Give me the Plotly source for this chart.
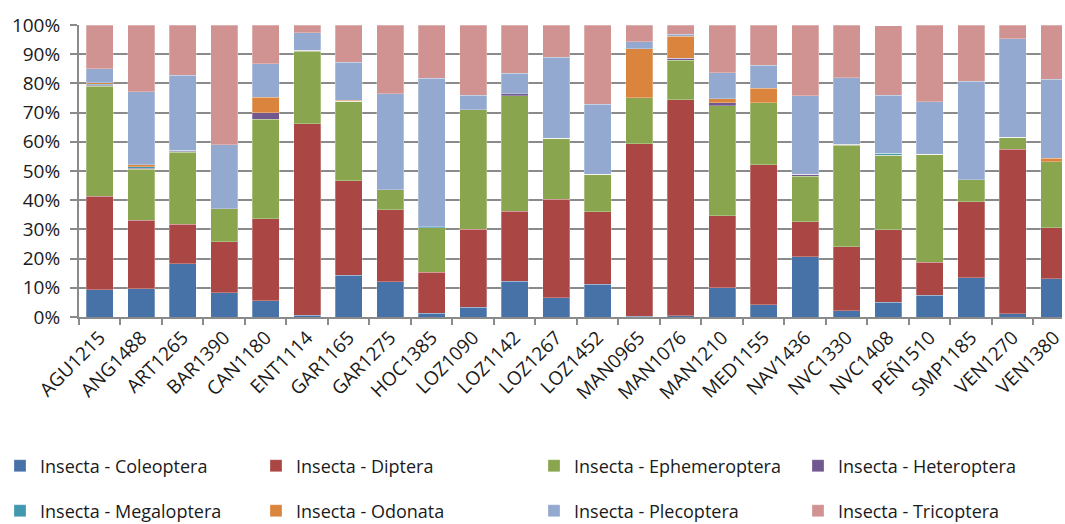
import plotly.graph_objects as go

# Sampling sites (x categories)
sites = ["AGU1215", "ANG1488", "ART1265", "BAR1390", "CAN1180", "ENT1114",
         "GAR1165", "GAR1275", "HOC1385", "LOZ1090", "LOZ1142", "LOZ1267",
         "LOZ1452", "MAN0965", "MAN1076", "MAN1210", "MED1155", "NAV1436",
         "NVC1330", "NVC1408", "PEÑ1510", "SMP1185", "VEN1270", "VEN1380"]

# Relative abundance (%) of each insect order per site
coleoptera = [9.4, 9.6, 18.3, 8.3, 5.6, 0.6, 14.3, 12.0, 1.3, 3.3, 12.3, 6.6,
              11.3, 0.2, 0.5, 10.0, 4.2, 20.7, 2.1, 5.0, 7.5, 13.5, 1.1, 13.1]
diptera = [32.0, 23.6, 13.5, 17.4, 28.1, 65.5, 32.3, 24.8, 14.1, 26.8, 24.0, 33.8,
           24.8, 59.2, 73.9, 24.6, 47.9, 11.9, 22.0, 24.9, 11.3, 26.0, 56.4, 17.4]
ephemeroptera = [37.6, 17.4, 24.6, 11.3, 34.0, 24.9, 27.3, 6.8, 15.2, 40.8, 39.5, 20.9,
                 12.8, 15.7, 13.5, 37.8, 21.3, 15.6, 34.8, 25.5, 37.0, 7.5, 4.0, 22.7]
heteroptera = [0.4, 0.3, 0.3, 0.0, 2.2, 0.4, 0.0, 0.0, 0.0, 0.0, 0.7, 0.0,
               0.0, 0.0, 0.7, 0.9, 0.0, 0.7, 0.3, 0.0, 0.0, 0.0, 0.0, 0.0]
megaloptera = [0.3, 0.5, 0.4, 0.0, 0.0, 0.0, 0.0, 0.0, 0.3, 0.0, 0.0, 0.0,
               0.0, 0.0, 0.0, 0.0, 0.0, 0.0, 0.0, 0.6, 0.0, 0.0, 0.0, 0.0]
odonata = [0.6, 0.8, 0.0, 0.0, 5.3, 0.0, 0.4, 0.0, 0.0, 0.0, 0.0, 0.0,
           0.0, 16.7, 7.6, 1.4, 5.0, 0.0, 0.0, 0.0, 0.0, 0.0, 0.0, 1.1]
plecoptera = [4.7, 24.9, 25.7, 22.0, 11.6, 6.0, 12.9, 32.9, 50.8, 5.0, 6.9, 27.7,
              24.0, 2.4, 0.7, 8.9, 7.8, 26.8, 22.8, 19.9, 17.9, 33.7, 33.8, 27.2]
tricoptera = [15.0, 22.9, 17.2, 41.0, 13.2, 2.6, 12.8, 23.5, 18.3, 24.1, 16.6, 11.0,
              27.1, 5.8, 3.1, 16.4, 13.8, 24.3, 18.0, 23.9, 26.3, 19.3, 4.7, 18.5]

series = [
    ("Insecta - Coleoptera", coleoptera, "#4672A8"),
    ("Insecta - Diptera", diptera, "#AA4644"),
    ("Insecta - Ephemeroptera", ephemeroptera, "#89A54E"),
    ("Insecta - Heteroptera", heteroptera, "#71588F"),
    ("Insecta - Megaloptera", megaloptera, "#4198AF"),
    ("Insecta - Odonata", odonata, "#DB843D"),
    ("Insecta - Plecoptera", plecoptera, "#93A9CF"),
    ("Insecta - Tricoptera", tricoptera, "#D19392"),
]

# Legend grid: 4 columns x 2 rows (pixel positions in the page)
legend_cols_px = [-5, 256, 534, 798]
legend_rows_px = [466, 511]

TICK_FONT = dict(family="Open Sans", size=19, color="#1a1a1a")
LEG_FONT = dict(family="Open Sans", size=18, color="#1a1a1a")
GRID = "#8a8a8a"
W, H = 1065, 524

fig = go.Figure()
legend_layout = {}
for i, (name, vals, color) in enumerate(series):
    key = "legend" if i == 0 else f"legend{i + 1}"
    fig.add_trace(go.Bar(
        x=sites, y=vals, name=name, legend=key, showlegend=True,
        marker=dict(color=color, line=dict(color="rgba(255,255,255,0.45)", width=0.6)),
    ))
    legend_layout[key] = dict(
        orientation="h", xref="container", yref="container",
        x=legend_cols_px[i % 4] / W, xanchor="left",
        y=1 - legend_rows_px[i // 4] / H, yanchor="middle",
        font=LEG_FONT, bgcolor="rgba(0,0,0,0)", itemwidth=30, visible=True,
    )

fig.update_layout(
    barmode="stack", bargap=0.35,
    width=W, height=H, showlegend=True,
    margin=dict(l=79, r=0, t=25, b=207, pad=0),
    paper_bgcolor="white", plot_bgcolor="white",
    font=TICK_FONT,
    xaxis=dict(
        range=[-0.5, 23.19], tickangle=-45, tickson="boundaries",
        ticks="outside", ticklen=6, tickwidth=2, tickcolor=GRID,
        showline=True, linecolor=GRID, linewidth=2,
        showgrid=False, tickfont=TICK_FONT,
    ),
    yaxis=dict(
        range=[0, 100], dtick=10, ticksuffix="%",
        ticks="outside", ticklen=7, tickwidth=2, tickcolor=GRID,
        showline=True, linecolor=GRID, linewidth=2,
        showgrid=True, gridcolor=GRID, gridwidth=2,
        zeroline=False, tickfont=TICK_FONT, ticklabelstandoff=6,
    ),
    **legend_layout,
)

fig.write_html("out.html")
